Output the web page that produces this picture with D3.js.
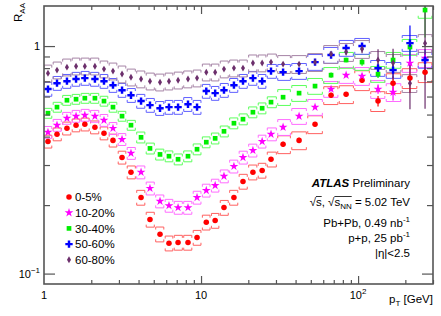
<!DOCTYPE html>
<html>
<head>
<meta charset="utf-8">
<title>ATLAS RAA vs pT</title>
<script src="https://d3js.org/d3.v7.min.js"></script>
<style>
  body { margin: 0; background: #fff; }
  text { font-family: "Liberation Sans", Arial, sans-serif; fill: #000; }
</style>
</head>
<body>
<div id="chart"></div>
<script>
// pT bin centres [GeV]
var pt = [1.06, 1.21, 1.40, 1.60, 1.82, 2.11, 2.41, 2.75, 3.14, 3.58,
          4.15, 4.73, 5.48, 6.25, 7.14, 8.26, 9.43, 10.8, 12.3, 14.0,
          16.2, 18.5, 21.4, 24.5, 27.9, 33.3, 42.1, 53.2, 67.3, 83.9,
          106, 134, 167, 214, 267];

// R_AA per centrality class
var raa0_5 = [0.381, 0.410, 0.435, 0.449, 0.453, 0.440, 0.414, 0.385, 0.324, 0.279,
              0.216, 0.173, 0.149, 0.136, 0.137, 0.137, 0.144, 0.168, 0.171, 0.195,
              0.216, 0.254, 0.279, 0.284, 0.318, 0.370, 0.385, 0.453, 0.608, 0.614,
              0.708, 0.573, 0.687, 0.723, 0.768];
var raa10_20 = [0.418, 0.449, 0.482, 0.492, 0.497, 0.492, 0.472, 0.435, 0.389, 0.338,
                0.279, 0.237, 0.208, 0.199, 0.195, 0.195, 0.216, 0.232, 0.244, 0.268,
                0.296, 0.324, 0.348, 0.381, 0.410, 0.440, 0.492, 0.539, 0.647, 0.745,
                0.738, 0.647, 0.627, 0.842, 0.885];
var raa30_40 = [0.507, 0.539, 0.578, 0.584, 0.590, 0.590, 0.573, 0.539, 0.492, 0.449,
                0.397, 0.355, 0.334, 0.328, 0.318, 0.328, 0.352, 0.378, 0.393, 0.422,
                0.458, 0.477, 0.512, 0.533, 0.567, 0.596, 0.621, 0.667, 0.745, 0.868,
                0.850, 0.753, 0.868, 0.990, 1.44];
var raa50_60 = [0.647, 0.687, 0.701, 0.716, 0.723, 0.716, 0.701, 0.673, 0.640, 0.608,
                0.573, 0.550, 0.533, 0.539, 0.539, 0.555, 0.539, 0.634, 0.621, 0.640,
                0.673, 0.701, 0.723, 0.701, 0.776, 0.768, 0.776, 0.850, 0.913, 0.980,
                1.00, 0.800, 0.784, 1.03, 0.868];
var raa60_80 = [0.760, 0.784, 0.808, 0.816, 0.816, 0.816, 0.792, 0.776, 0.753, 0.730,
                0.716, 0.701, 0.694, 0.701, 0.708, 0.716, 0.723, 0.768, 0.768, 0.792,
                0.800, 0.800, 0.842, 0.842, 0.850, 0.833, 0.833, 0.850, 0.922, 0.941,
                0.970, 0.868, 0.842, 0.687, 1.03];

// statistical uncertainties (absolute)
var stat0_5 = [0,0,0,0,0,0,0,0,0,0, 0,0,0,0,0,0,0,0,0,0, 0,0,0,0,0,0.01,0.01,0.01,0.015,0.015, 0.02,0.03,0.05,0.10,0.06];
var stat10_20 = [0,0,0,0,0,0,0,0,0,0, 0,0,0,0,0,0,0,0,0,0, 0,0,0,0,0,0.01,0.01,0.01,0.015,0.015, 0.02,0.03,0.05,0.07,0.05];
var stat30_40 = [0,0,0,0,0,0,0,0,0,0, 0,0,0,0,0,0,0,0,0,0, 0,0,0,0,0,0.01,0.01,0.015,0.02,0.02, 0.03,0.03,0.06,0.08,0.35];
var stat50_60 = [0,0,0,0,0,0,0,0,0,0, 0,0,0,0,0,0,0,0,0,0, 0,0,0,0,0,0.01,0.015,0.02,0.02,0.02, 0.02,0.04,0.06,0.20,0.10];
var stat60_80 = [0,0,0,0,0,0,0,0,0,0, 0,0,0,0,0,0,0,0,0,0, 0,0,0,0,0,0.01,0.015,0.02,0.02,0.03, 0.04,0.10,0.13,0.16,0.50];

// systematic uncertainties (relative)
var sys0_5 = [0.065,0.065,0.065,0.065,0.065,0.065,0.065,0.065,0.065,0.065,
              0.075,0.075,0.075,0.075,0.075,0.075,0.075,0.075,0.075,0.075,
              0.075,0.075,0.075,0.075,0.075,0.09,0.09,0.09,0.09,0.09,
              0.10,0.10,0.10,0.10,0.10];
var sys10_20 = [0.06,0.06,0.06,0.06,0.06,0.06,0.06,0.06,0.06,0.06,
                0.065,0.065,0.065,0.065,0.065,0.065,0.065,0.065,0.065,0.065,
                0.065,0.065,0.065,0.065,0.065,0.08,0.08,0.08,0.08,0.08,
                0.09,0.09,0.09,0.09,0.09];
var sys30_40 = [0.05,0.05,0.05,0.05,0.05,0.05,0.05,0.05,0.05,0.05,
                0.055,0.055,0.055,0.055,0.055,0.055,0.055,0.055,0.055,0.055,
                0.055,0.055,0.055,0.055,0.055,0.08,0.08,0.08,0.08,0.08,
                0.08,0.08,0.08,0.08,0.08];
var sys50_60 = [0.07,0.07,0.07,0.07,0.07,0.07,0.07,0.07,0.07,0.07,
                0.07,0.07,0.07,0.07,0.07,0.07,0.07,0.07,0.07,0.07,
                0.07,0.07,0.07,0.07,0.07,0.08,0.08,0.08,0.08,0.08,
                0.08,0.08,0.08,0.08,0.08];
var sys60_80 = [0.085,0.085,0.085,0.085,0.085,0.085,0.085,0.085,0.085,0.085,
                0.085,0.085,0.085,0.085,0.085,0.085,0.085,0.085,0.085,0.085,
                0.085,0.085,0.085,0.085,0.085,0.09,0.09,0.09,0.09,0.09,
                0.09,0.09,0.09,0.09,0.09];

var labels = ["0-5%", "10-20%", "30-40%", "50-60%", "60-80%"];
var xTickVals = [1, 10, 100];
var xTickLabels = [["1", ""], ["10", ""], ["10", "2"]];
var yTickVals = [0.1, 1];
var yTickLabels = [["10", "\u22121"], ["1", ""]];

var series = [
  {name: labels[0], v: raa0_5, stat: stat0_5, sys: sys0_5, color: "#ff0000", box: "#ff6060", sym: "circle"},
  {name: labels[1], v: raa10_20, stat: stat10_20, sys: sys10_20, color: "#ff00ff", box: "#ff6cff", sym: "star"},
  {name: labels[2], v: raa30_40, stat: stat30_40, sys: sys30_40, color: "#00ee00", box: "#5cff5c", sym: "square"},
  {name: labels[3], v: raa50_60, stat: stat50_60, sys: sys50_60, color: "#0000ff", box: "#6060ff", sym: "cross"},
  {name: labels[4], v: raa60_80, stat: stat60_80, sys: sys60_80, color: "#6c2f6c", box: "#a583a5", sym: "diamond"}
];

var W = 441, H = 316;
var pL = 44, pR = 433, pT = 6, pB = 284;

var svg = d3.select("#chart").append("svg")
  .attr("width", W).attr("height", H);

var x = d3.scaleLog().domain([1, 300]).range([pL, pR]);
var y = d3.scaleLog().domain([0.09, 1.5]).range([pB, pT]);

svg.append("clipPath").attr("id", "clip")
  .append("rect").attr("x", pL).attr("y", pT)
  .attr("width", pR - pL).attr("height", pB - pT);

// bin edges from neighbouring centres (geometric means)
var edges = pt.map(function(p, i) {
  var lo = i > 0 ? Math.sqrt(pt[i - 1] * p) : p / Math.sqrt(pt[1] / pt[0]);
  var hi = i < pt.length - 1 ? Math.sqrt(pt[i + 1] * p) : p * Math.sqrt(p / pt[i - 1]);
  return [lo, hi];
});

var plot = svg.append("g").attr("clip-path", "url(#clip)");

function bracket(i, v, s) {
  var x0 = x(edges[i][0]) + 0.7, x1 = x(edges[i][1]) - 0.7;
  var yt = y(v * (1 + s)), yb = y(v * (1 - s)), t = 2.5;
  return "M" + x0 + "," + (yt + t) + "V" + yt + "H" + x1 + "V" + (yt + t) +
         "M" + x0 + "," + (yb - t) + "V" + yb + "H" + x1 + "V" + (yb - t);
}

// systematic boxes
series.forEach(function(s) {
  plot.append("g").selectAll("path")
    .data(s.v)
    .join("path")
      .attr("d", function(d, i) { return bracket(i, d, s.sys[i]); })
      .attr("fill", "none")
      .attr("stroke", s.box)
      .attr("stroke-width", 1);
});

// statistical bars
series.forEach(function(s) {
  plot.append("g").selectAll("line")
    .data(s.v.map(function(d, i) { return {p: pt[i], v: d, e: s.stat[i]}; })
              .filter(function(d) { return d.e > 0; }))
    .join("line")
      .attr("x1", function(d) { return x(d.p); })
      .attr("x2", function(d) { return x(d.p); })
      .attr("y1", function(d) { return y(d.v + d.e); })
      .attr("y2", function(d) { return y(Math.max(d.v - d.e, 0.09)); })
      .attr("stroke", s.color)
      .attr("stroke-width", 1.2);
});

var symbols = {
  circle: d3.symbol(d3.symbolCircle, 24),
  star: d3.symbol(d3.symbolStar, 24),
  square: d3.symbol(d3.symbolSquare, 22),
  cross: d3.symbol(d3.symbolCross, 30),
  diamond: d3.symbol(d3.symbolDiamond, 14)
};

// markers
series.forEach(function(s) {
  plot.append("g").selectAll("path")
    .data(s.v)
    .join("path")
      .attr("transform", function(d, i) { return "translate(" + x(pt[i]) + "," + y(d) + ")"; })
      .attr("d", symbols[s.sym])
      .attr("fill", s.color);
});

// axes: ticks on all four sides
var xMinor = [], yMinor = [];
[1, 10, 100].forEach(function(b) {
  for (var k = 2; k <= 9; k++) if (b * k <= 300) xMinor.push(b * k);
});
[0.1].forEach(function(b) {
  for (var k = 2; k <= 9; k++) yMinor.push(b * k);
});

function axis(gen, vals, size, tx, ty) {
  var g = svg.append("g")
    .attr("transform", "translate(" + tx + "," + ty + ")")
    .call(gen.tickValues(vals).tickSize(size).tickFormat(""));
  g.select(".domain").remove();
  g.selectAll("line").attr("stroke", "#555").attr("stroke-width", 1.2);
}
axis(d3.axisBottom(x), xMinor, -4, 0, pB);
axis(d3.axisBottom(x), [10, 100], -8, 0, pB);
axis(d3.axisTop(x), xMinor, -4, 0, pT);
axis(d3.axisTop(x), [10, 100], -8, 0, pT);
axis(d3.axisLeft(y), yMinor, -6, pL, 0);
axis(d3.axisLeft(y), yTickVals, -11, pL, 0);
axis(d3.axisRight(y), yMinor, -6, pR, 0);
axis(d3.axisRight(y), yTickVals, -11, pR, 0);

svg.append("rect")
  .attr("x", pL).attr("y", pT)
  .attr("width", pR - pL).attr("height", pB - pT)
  .attr("fill", "none").attr("stroke", "#555").attr("stroke-width", 1.6);

// tick labels
svg.append("g").selectAll("text")
  .data(xTickVals)
  .join("text")
    .attr("x", function(d) { return x(d); })
    .attr("y", pB + 15)
    .attr("text-anchor", "middle")
    .attr("font-size", 11)
    .each(function(d, i) {
      var t = d3.select(this);
      t.append("tspan").text(xTickLabels[i][0]);
      if (xTickLabels[i][1]) t.append("tspan").attr("dy", -5).attr("font-size", 8).text(xTickLabels[i][1]);
    });

svg.append("g").selectAll("text")
  .data(yTickVals)
  .join("text")
    .attr("x", pL - 4)
    .attr("y", function(d) { return y(d) + 4; })
    .attr("text-anchor", "end")
    .attr("font-size", 11)
    .each(function(d, i) {
      var t = d3.select(this);
      t.append("tspan").text(yTickLabels[i][0]);
      if (yTickLabels[i][1]) t.append("tspan").attr("dy", -5).attr("font-size", 8).text(yTickLabels[i][1]);
    });

// axis titles
var xt = svg.append("text")
  .attr("x", pR).attr("y", 303)
  .attr("text-anchor", "end").attr("font-size", 11.5);
xt.append("tspan").text("p");
xt.append("tspan").attr("dy", 3).attr("font-size", 8).text("T");
xt.append("tspan").attr("dy", -3).text(" [GeV]");

var yt = svg.append("text")
  .attr("transform", "translate(22,3) rotate(-90)")
  .attr("text-anchor", "end").attr("font-size", 11.5);
yt.append("tspan").text("R");
yt.append("tspan").attr("dy", 3).attr("font-size", 8).text("AA");

// legend
var leg = svg.append("g").selectAll("g")
  .data(series)
  .join("g")
    .attr("transform", function(d, i) { return "translate(69," + (197 + i * 15.7) + ")"; });
leg.append("path")
  .attr("d", function(d) { return symbols[d.sym](); })
  .attr("fill", function(d) { return d.color; });
leg.append("text")
  .attr("x", 6).attr("y", 4.2)
  .attr("font-size", 11.5)
  .text(function(d) { return d.name; });

// annotations
var ax = 410;
var t1 = svg.append("text").attr("x", ax).attr("y", 187).attr("text-anchor", "end").attr("font-size", 11.5);
t1.append("tspan").attr("font-weight", "bold").attr("font-style", "italic").text("ATLAS");
t1.append("tspan").text(" Preliminary");

var t2 = svg.append("text").attr("x", ax).attr("y", 206).attr("text-anchor", "end").attr("font-size", 11.5);
t2.append("tspan").text("\u221as, \u221as");
t2.append("tspan").attr("dy", 3).attr("font-size", 8).text("NN");
t2.append("tspan").attr("dy", -3).text(" = 5.02 TeV");
var n2 = t2.node();
[[1, 1], [5, 7]].forEach(function(r) {
  var a = n2.getStartPositionOfChar(r[0]).x, b = n2.getEndPositionOfChar(r[1]).x;
  svg.append("line").attr("x1", a).attr("x2", b).attr("y1", 196.5).attr("y2", 196.5)
    .attr("stroke", "#000").attr("stroke-width", 0.8);
});

var t3 = svg.append("text").attr("x", ax).attr("y", 227).attr("text-anchor", "end").attr("font-size", 11.5);
t3.append("tspan").text("Pb+Pb, 0.49 nb");
t3.append("tspan").attr("dy", -5).attr("font-size", 8).text("-1");

var t4 = svg.append("text").attr("x", ax).attr("y", 242).attr("text-anchor", "end").attr("font-size", 11.5);
t4.append("tspan").text("p+p, 25 pb");
t4.append("tspan").attr("dy", -5).attr("font-size", 8).text("-1");

svg.append("text").attr("x", ax).attr("y", 257).attr("text-anchor", "end").attr("font-size", 11.5)
  .text("|\u03b7|<2.5");
</script>
</body>
</html>
